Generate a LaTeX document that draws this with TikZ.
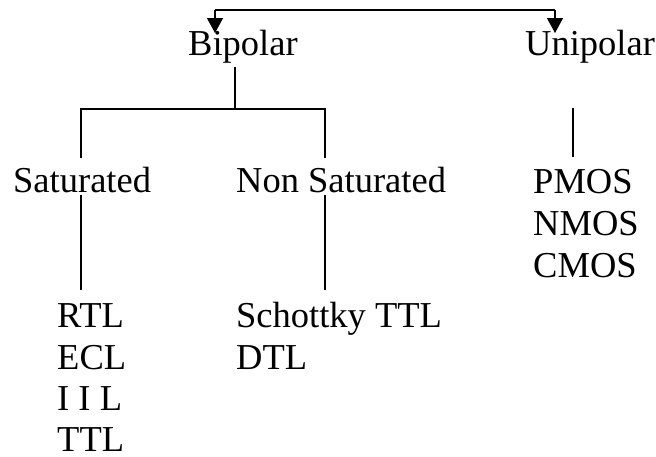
\documentclass[tikz,border=0pt]{standalone}
\usepackage{fontspec}
\setmainfont{Liberation Serif}
\usetikzlibrary{arrows.meta}
\begin{document}
\begin{tikzpicture}[x=1pt, y=-1pt,
    lbl/.style={anchor=base west, inner sep=0pt, font=\fontsize{36.5}{42}\selectfont},
    tree/.style={line width=2pt},
    top/.style={line width=1.3pt},
    tip/.style={-{Triangle[width=16pt, length=15pt]}, line width=1.3pt}]
    \useasboundingbox (0,0) rectangle (656,456);
    \node[lbl] (bip) at (188,55) {Bipolar};
    \node[lbl] (uni) at (525,55) {Unipolar};
    \node[lbl] (sat) at (13,192) {Saturated};
    \node[lbl] (nsat) at (236,192) {Non Saturated};
    \node[lbl] (pmos) at (533,193) {PMOS};
    \node[lbl] (nmos) at (533,235) {NMOS};
    \node[lbl] (cmos) at (533,277) {CMOS};
    \node[lbl] (rtl) at (57,327) {RTL};
    \node[lbl] (ecl) at (57,369) {ECL};
    \node[lbl] (iil) at (57,410) {I I L};
    \node[lbl, text depth=0pt] (ttl) at (57,451) {TTL};
    \node[lbl] (sttl) at (236,327) {Schottky TTL};
    \node[lbl] (dtl) at (236,369) {DTL};
    \coordinate (t1) at (215,10);
    \coordinate (t2) at (555,10);
    \coordinate (a1) at (215,33);
    \coordinate (a2) at (555,33);
    \coordinate (b1) at (235,67);
    \coordinate (b2) at (235,109);
    \coordinate (s1) at (81,109);
    \coordinate (s2) at (81,158);
    \coordinate (n1) at (325,109);
    \coordinate (n2) at (325,158);
    \coordinate (s3) at (81,195);
    \coordinate (s4) at (81,290);
    \coordinate (n3) at (325,195);
    \coordinate (n4) at (325,290);
    \coordinate (u1) at (573,108);
    \coordinate (u2) at (573,157);
    \draw[top] (t1) -- (t2);
    \draw[tip] (t1) -- (a1);
    \draw[tip] (t2) -- (a2);
    \draw[tree] (b1) -- (b2);
    \draw[tree] (s2) -- (s1) -- (n1) -- (n2);
    \draw[tree] (s3) -- (s4);
    \draw[tree] (n3) -- (n4);
    \draw[tree] (u1) -- (u2);
\end{tikzpicture}
\end{document}
